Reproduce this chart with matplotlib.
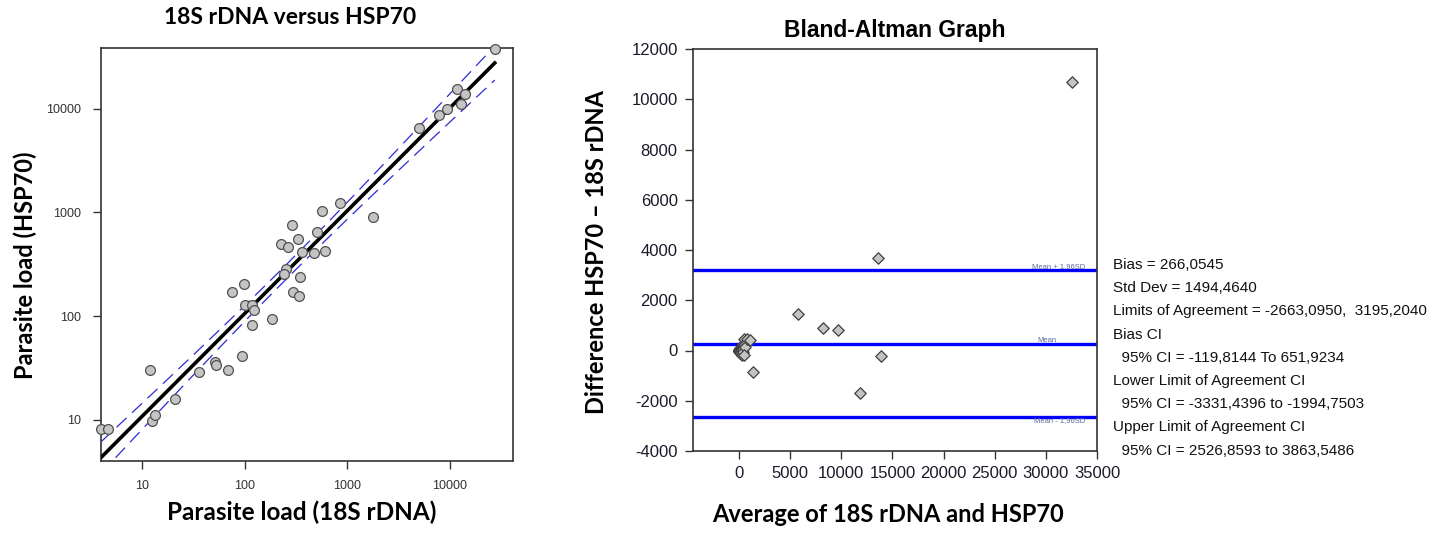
import numpy as np
import matplotlib
matplotlib.use("Agg")
import matplotlib.pyplot as plt
from matplotlib.ticker import FixedLocator, NullLocator, FixedFormatter

plt.rcParams["axes.unicode_minus"] = False

# ---------------- data ----------------
load_18s = [4.0, 4.7, 12.1, 12.5, 13.3, 21.1, 35.6, 52, 52.7, 69, 94.4, 75.5, 98.6,
            101.6, 117, 124.5, 117, 183, 226, 264, 289, 328, 253, 244, 348, 298,
            338, 364, 469, 505, 609, 565, 840, 1765, 5032, 7757, 9242, 11770,
            12720, 13970, 27245]
load_hsp70 = [8.2, 8.2, 30.3, 9.8, 11.2, 16, 29, 36, 33.7, 30.3, 41, 172, 205,
              127, 127, 114, 82.6, 94, 499, 462, 764, 555, 287, 256, 236, 172,
              156, 413, 404, 650, 428, 1035, 1242, 895, 6477, 8659, 10051, 15470,
              11020, 13760, 37935]

log_ticks = [10, 100, 1000, 10000]
log_ticklabels = ["10", "100", "1000", "10000"]

bias = 266.0545
lower_loa = -2663.0950
upper_loa = 3195.2040
ba_yticks = [-4000, -2000, 0, 2000, 4000, 6000, 8000, 10000, 12000]
ba_xticks = [0, 5000, 10000, 15000, 20000, 25000, 30000, 35000]
stats_lines = [
    "Bias = 266,0545",
    "Std Dev = 1494,4640",
    "Limits of Agreement = -2663,0950,  3195,2040",
    "Bias CI",
    "  95% CI = -119,8144 To 651,9234",
    "Lower Limit of Agreement CI",
    "  95% CI = -3331,4396 to -1994,7503",
    "Upper Limit of Agreement CI",
    "  95% CI = 2526,8593 to 3863,5486",
]

# ---------------- figure ----------------
W, H = 1447, 535
fig = plt.figure(figsize=(W / 100, H / 100), dpi=100)

def box(l, t, r, b):
    return [l / W, 1 - b / H, (r - l) / W, (b - t) / H]

head_font = ["Lato", "DejaVu Sans"]
arial = ["Liberation Sans", "DejaVu Sans"]

# ---------- left: log-log scatter ----------
ax1 = fig.add_axes(box(101, 48, 513, 461))
x = np.array(load_18s, float)
y = np.array(load_hsp70, float)
lx, ly = np.log10(x), np.log10(y)
b1, b0 = np.polyfit(lx, ly, 1)
n = len(lx)
res = ly - (b0 + b1 * lx)
s = np.sqrt(np.sum(res ** 2) / (n - 2))
sxx = np.sum((lx - lx.mean()) ** 2)
gx = np.linspace(lx.min(), lx.max(), 200)
gy = b0 + b1 * gx
hw = 2.02 * s * np.sqrt(1 / n + (gx - lx.mean()) ** 2 / sxx)

ax1.plot(10 ** gx, 10 ** gy, color="black", lw=2.6, zorder=3)
ax1.plot(10 ** gx, 10 ** (gy + hw), color="#2b2bd6", lw=0.9, ls=(0, (11, 6)), zorder=3)
ax1.plot(10 ** gx, 10 ** (gy - hw), color="#2b2bd6", lw=0.9, ls=(0, (11, 6)), zorder=3)
ax1.scatter(x, y, s=50, facecolor="#c4c4c4", edgecolor="#505050", linewidth=0.9,
            zorder=4, clip_on=False)
ax1.set_xscale("log")
ax1.set_yscale("log")
ax1.set_xlim(4.0, 41000)
ax1.set_ylim(4.0, 38600)
ax1.xaxis.set_major_locator(FixedLocator(log_ticks))
ax1.xaxis.set_major_formatter(FixedFormatter(log_ticklabels))
ax1.yaxis.set_major_locator(FixedLocator(log_ticks))
ax1.yaxis.set_major_formatter(FixedFormatter(log_ticklabels))
ax1.xaxis.set_minor_locator(NullLocator())
ax1.yaxis.set_minor_locator(NullLocator())
ax1.tick_params(direction="out", length=6, width=1, color="#333333",
                labelsize=9, labelcolor="#333333", pad=8)
for lab in ax1.get_xticklabels() + ax1.get_yticklabels():
    lab.set_family(arial)
for sp in ax1.spines.values():
    sp.set_color("#333333")
    sp.set_linewidth(1.2)

fig.text(290 / W, 1 - 18 / H, "18S rDNA versus HSP70", ha="center", va="center",
         fontsize=16.5, fontweight="bold", family=head_font)
fig.text(302 / W, 1 - 512 / H, "Parasite load (18S rDNA)", ha="center", va="center",
         fontsize=17.5, fontweight="bold", family=head_font)
fig.text(25 / W, 1 - 265 / H, "Parasite load (HSP70)", ha="center", va="center",
         rotation=90, fontsize=17, fontweight="bold", family=head_font)

# ---------- right: Bland-Altman ----------
ax2 = fig.add_axes(box(693, 49, 1097, 451))
avg = (x + y) / 2
diff = y - x
ax2.axhline(upper_loa, color="#0000ff", lw=2.4, zorder=2)
ax2.axhline(bias, color="#0000ff", lw=2.4, zorder=2)
ax2.axhline(lower_loa, color="#0000ff", lw=2.4, zorder=2)
ax2.scatter(avg, diff, marker="D", s=34, facecolor="#c4c4c4", edgecolor="#404040",
            linewidth=0.9, zorder=4)
ax2.set_xlim(-4500, 35000)
ax2.set_ylim(-4000, 12000)
ax2.set_xticks(ba_xticks)
ax2.set_yticks(ba_yticks)
ax2.tick_params(direction="out", length=6, width=1, color="#333333",
                labelsize=12, labelcolor="#1a1a2a", pad=5)
for lab in ax2.get_xticklabels() + ax2.get_yticklabels():
    lab.set_family(arial)
for sp in ax2.spines.values():
    sp.set_color("#333333")
    sp.set_linewidth(1.2)

small = dict(fontsize=5.5, color="#5a6a9a", family=arial, ha="right")
ax2.text(0.97, upper_loa, "Mean + 1,96SD", transform=ax2.get_yaxis_transform(),
         va="bottom", **small)
ax2.text(0.90, bias, "Mean", transform=ax2.get_yaxis_transform(), va="bottom", **small)
ax2.text(0.97, lower_loa, "Mean - 1,96SD", transform=ax2.get_yaxis_transform(),
         va="top", **small)

fig.text(895 / W, 1 - 30 / H, "Bland-Altman Graph", ha="center", va="center",
         fontsize=16.5, fontweight="bold", family=arial)
fig.text(888 / W, 1 - 515 / H, "Average of 18S rDNA and HSP70", ha="center",
         va="center", fontsize=17, fontweight="bold", family=head_font)
fig.text(597 / W, 1 - 252 / H, "Difference HSP70 \u2013 18S rDNA", ha="center",
         va="center", rotation=90, fontsize=17, fontweight="bold", family=head_font)

y0, dy = 265, 23.2
for i, line in enumerate(stats_lines):
    fig.text(1113 / W, 1 - (y0 + i * dy) / H, line, ha="left", va="center",
             fontsize=11, family=arial, color="#111111")

fig.savefig("out.png", dpi=100)
